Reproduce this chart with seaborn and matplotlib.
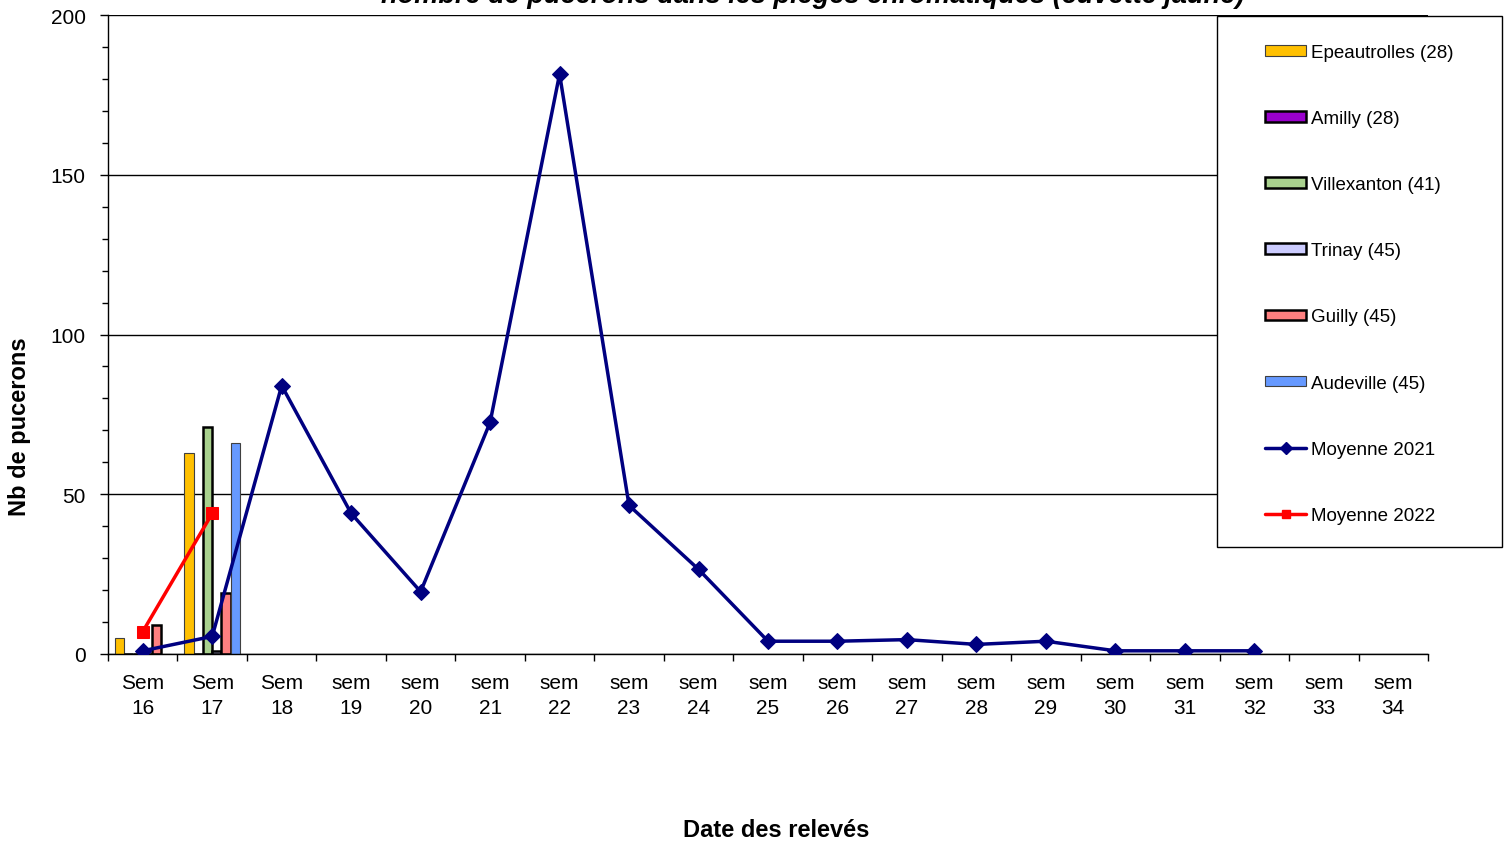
import numpy as np
import pandas as pd
import matplotlib
matplotlib.use("Agg")
import matplotlib.pyplot as plt
import seaborn as sns
from matplotlib.patches import Patch, Rectangle
from matplotlib.lines import Line2D
from matplotlib.ticker import MultipleLocator, FixedLocator

weeks = ["Sem\n16", "Sem\n17", "Sem\n18"] + [f"sem\n{w}" for w in range(19, 35)]
stations = ["Epeautrolles (28)", "Amilly (28)", "Villexanton (41)", "Trinay (45)",
            "Guilly (45)", "Audeville (45)"]
epeautrolles = [5, 63]
amilly = [0, 0]
villexanton = [0, 71]
trinay = [0, 1]
guilly = [9, 19]
audeville = [0, 66]
moy2021 = [1, 5.5, 84, 44, 19.5, 72.5, 181.5, 46.5, 26.5, 4, 4, 4.5, 3, 4, 1, 1, 1]
moy2022 = [7, 44]

colors = ["#FFC000", "#9900CC", "#A9D18E", "#CCCCFF", "#FF8080", "#6699FF"]
edges = ["#404040", "#000000", "#000000", "#000000", "#000000", "#404040"]
lws = [0.8, 1.8, 1.8, 1.8, 1.8, 0.8]

series = [epeautrolles, amilly, villexanton, trinay, guilly, audeville]
rows = []
for st, vals in zip(stations, series):
    for i, v in enumerate(vals):
        rows.append({"week": weeks[i], "station": st, "value": v})
df = pd.DataFrame(rows)

sns.set_style("white")
plt.rcParams['font.family'] = ['Liberation Sans', 'DejaVu Sans']
for k in ["text.color", "axes.labelcolor", "xtick.color", "ytick.color"]:
    plt.rcParams[k] = "black"

fig = plt.figure(figsize=(15.11, 8.45), dpi=100)
ax = fig.add_axes([108/1511, 1-655/845, (1428-108)/1511, (655-16)/845])

sns.barplot(data=df, x="week", y="value", hue="station", order=weeks,
            hue_order=stations, palette=colors, saturation=1, width=0.8,
            errorbar=None, legend=False, ax=ax)
for cont, ec, lw in zip(ax.containers, edges, lws):
    for p in cont.patches:
        p.set_edgecolor(ec)
        p.set_linewidth(lw)
        p.set_zorder(3)

x21 = np.arange(len(moy2021))
sns.lineplot(x=x21, y=moy2021, color="#000080", linewidth=2.5, marker="D",
             markersize=8.5, markeredgecolor="#000080", ax=ax, zorder=5, sort=False)
x22 = np.arange(len(moy2022))
sns.lineplot(x=x22, y=moy2022, color="#FF0000", linewidth=2.5, marker="s",
             markersize=8, markeredgecolor="#FF0000", ax=ax, zorder=6, sort=False)

ax.set_xlim(-0.5, len(weeks) - 0.5)
ax.set_ylim(0, 200)
ax.xaxis.set_major_locator(FixedLocator(np.arange(len(weeks))))
ax.set_xticklabels(weeks, fontsize=15, linespacing=1.35)
ax.xaxis.set_minor_locator(FixedLocator(np.arange(-0.5, len(weeks), 1.0)))
ax.tick_params(axis="x", which="major", length=0, pad=14)
ax.tick_params(axis="x", which="minor", length=5, width=1, direction="out",
               bottom=True, color="black")
ax.yaxis.set_major_locator(MultipleLocator(50))
ax.yaxis.set_minor_locator(MultipleLocator(10))
ax.tick_params(axis="y", which="major", length=6, width=1, direction="out", left=True,
               labelsize=15, color="black", pad=10)
ax.tick_params(axis="y", which="minor", length=4, width=1, direction="out", left=True,
               color="black")
ax.grid(axis="y", which="major", color="black", linewidth=1)
ax.set_axisbelow(True)
for s in ["top", "right"]:
    ax.spines[s].set_visible(False)
for s in ["left", "bottom"]:
    ax.spines[s].set_color("black")
    ax.spines[s].set_linewidth(1)
    ax.spines[s].set_zorder(4)

ax.set_xlabel("")
ax.set_ylabel("")
fig.text(20/1511, 1-427/845, "Nb de pucerons", rotation=90, ha="center", va="center",
         fontsize=17, fontweight="bold")
fig.text(776/1511, 1-831/845, "Date des relevés", ha="center", va="center",
         fontsize=17, fontweight="bold")
fig.text(813/1511, 1-3/845, "nombre de pucerons dans les pièges chromatiques (cuvette jaune)",
         ha="center", va="baseline", fontsize=19.5, fontweight="bold", fontstyle="italic")

fig.patches.append(Rectangle((1217/1511, 1-548/845), 285/1511, 531/845,
                             transform=fig.transFigure, facecolor="white",
                             edgecolor="black", linewidth=1, zorder=3))

handles = [Patch(facecolor=c, edgecolor=e, linewidth=l) for c, e, l in zip(colors, edges, lws)]
handles.append(Line2D([], [], color="#000080", linewidth=2.5, marker="D", markersize=6))
handles.append(Line2D([], [], color="#FF0000", linewidth=2.5, marker="s", markersize=6))
labels = stations + ["Moyenne 2021", "Moyenne 2022"]
leg = fig.legend(handles, labels, loc="upper left",
                 bbox_to_anchor=(1265/1511, 1-45/845), fontsize=13.5,
                 frameon=False, labelspacing=2.62, handlelength=2.2, handleheight=0.5,
                 handletextpad=0.25, borderpad=0, borderaxespad=0)
leg.set_zorder(5)

fig.savefig("out.png", dpi=100)
